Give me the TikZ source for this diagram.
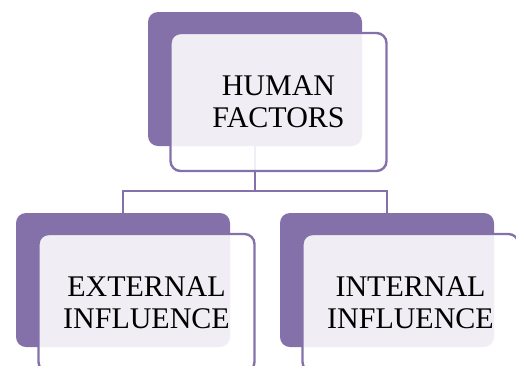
\documentclass[tikz,border=0pt]{standalone}
\usepackage{fontspec}
\setmainfont{Liberation Serif}
\usetikzlibrary{positioning}
\definecolor{hfpurple}{RGB}{133,113,170}

\begin{document}
\begin{tikzpicture}[
    x=1pt, y=-1pt,
    every node/.append style = {font=\fontsize{30}{32}\selectfont},
    backbox/.style = {rectangle, rounded corners=10pt, fill=hfpurple,
      minimum width=214pt, minimum height=134pt, inner sep=0pt},
    frontbox/.style = {rectangle, rounded corners=10pt, draw=hfpurple,
      line width=2.4pt, fill=white, fill opacity=0.88, text opacity=1,
      minimum width=216pt, minimum height=138pt, align=center,
      inner sep=0pt, xshift=23.5pt, yshift=-23pt},
    link/.style = {draw=hfpurple, line width=2.4pt}
  ]
  \useasboundingbox (0,0) rectangle (516,365);
  \clip (0,0) rectangle (516,365);
  % back boxes
  \node[backbox] (hfback) at (255,79) {};
  \node[backbox] (extback) at (123,280) {};
  \node[backbox] (intback) at (387,280) {};
  % connectors
  \coordinate (bus) at (255,191);
  \draw[link] (hfback.south) -- (bus) -| (extback.north);
  \draw[link] (bus) -| (intback.north);
  % front boxes
  \node[frontbox] (hffront) at (hfback) {HUMAN\\FACTORS};
  \node[frontbox] (extfront) at (extback) {EXTERNAL\\INFLUENCE};
  \node[frontbox] (intfront) at (intback) {INTERNAL\\INFLUENCE};
\end{tikzpicture}
\end{document}
